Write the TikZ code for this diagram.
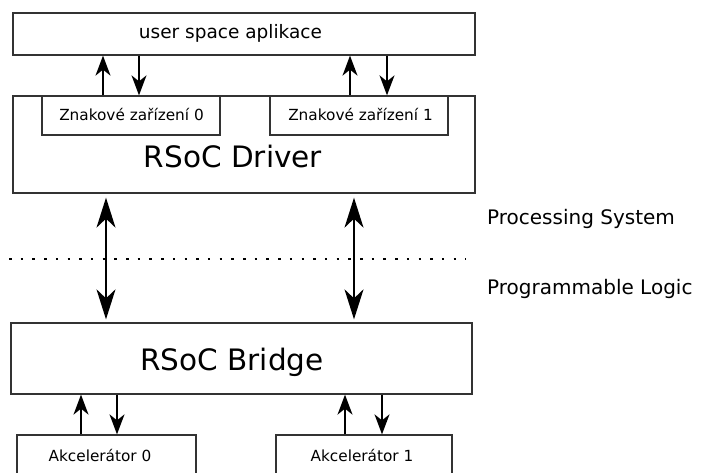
\documentclass[tikz,border=0pt]{standalone}
\usepackage{fontspec}
\setmainfont{DejaVu Sans}
\usetikzlibrary{arrows.meta,fit}

\tikzset{
  box/.style={draw=black!80, line width=1.3pt, inner sep=0pt},
  bigtxt/.style={anchor=base, inner sep=0pt, font=\fontsize{29.5}{35}\selectfont},
  midtxt/.style={anchor=base, inner sep=0pt, font=\fontsize{18.5}{22}\selectfont},
  sidetxt/.style={anchor=base west, inner sep=0pt, font=\fontsize{20}{24}\selectfont},
  smalltxt/.style={anchor=base, inner sep=0pt, font=\fontsize{15.3}{18}\selectfont},
  sarrow/.style={line width=1.5pt, -{Stealth[length=20pt, width=15pt, inset=6pt]}},
  darrow/.style={line width=1.7pt, {Stealth[length=30pt, width=19pt, inset=9pt]}-{Stealth[length=30pt, width=19pt, inset=9pt]}},
  dotline/.style={line width=1.4pt, dash pattern=on 2.5pt off 9.2pt}
}

\begin{document}
\begin{tikzpicture}[x=1pt,y=-1pt]
    \useasboundingbox (0,0) rectangle (701,473);
    \clip (0,0) rectangle (701,473);

    % Processing system side
    \node[box, fit={(13,13) (475,55)}] (usr) {};
    \node[box, fit={(13,96) (475,193)}] (drv) {};
    \node[box, fit={(42,96) (220,135)}] (zn0) {};
    \node[box, fit={(270,96) (448,135)}] (zn1) {};

    \node[midtxt] (usrlbl) at (230.5,39) {user space aplikace};
    \node[bigtxt] (drvlbl) at (233,168) {RSoC Driver};
    \node[smalltxt] (zn0lbl) at (131.5,121) {Znakové zařízení 0};
    \node[smalltxt] (zn1lbl) at (360.5,121) {Znakové zařízení 1};

    % Programmable logic side
    \node[box, fit={(11,323) (472,394)}] (brg) {};
    \node[box, fit={(17,435) (196,490)}] (ak0) {};
    \node[box, fit={(276,435) (452,490)}] (ak1) {};

    \node[bigtxt] (brglbl) at (232,370) {RSoC Bridge};
    \node[smalltxt] (ak0lbl) at (100,461) {Akcelerátor 0};
    \node[smalltxt] (ak1lbl) at (362,461) {Akcelerátor 1};

    % Boundary between PS and PL
    \draw[dotline] (9,259) -- (466,259);
    \node[sidetxt] (pslbl) at (487,225) {Processing System};
    \node[sidetxt] (pllbl) at (487,294) {Programmable Logic};

    % Char device <-> user space
    \coordinate (t0u) at (103,0);
    \coordinate (t0d) at (139,0);
    \coordinate (t1u) at (350,0);
    \coordinate (t1d) at (387,0);
    \draw[sarrow] (zn0.north -| t0u) -- (usr.south -| t0u);
    \draw[sarrow] (usr.south -| t0d) -- (zn0.north -| t0d);
    \draw[sarrow] (zn1.north -| t1u) -- (usr.south -| t1u);
    \draw[sarrow] (usr.south -| t1d) -- (zn1.north -| t1d);

    % Driver <-> bridge
    \coordinate (d0) at (106,0);
    \coordinate (d1) at (354,0);
    \draw[darrow, shorten <=4pt, shorten >=3pt] (drv.south -| d0) -- (brg.north -| d0);
    \draw[darrow, shorten <=4pt, shorten >=3pt] (drv.south -| d1) -- (brg.north -| d1);

    % Accelerators <-> bridge
    \coordinate (b0u) at (81,0);
    \coordinate (b0d) at (117,0);
    \coordinate (b1u) at (345,0);
    \coordinate (b1d) at (382,0);
    \draw[sarrow] (ak0.north -| b0u) -- (brg.south -| b0u);
    \draw[sarrow] (brg.south -| b0d) -- (ak0.north -| b0d);
    \draw[sarrow] (ak1.north -| b1u) -- (brg.south -| b1u);
    \draw[sarrow] (brg.south -| b1d) -- (ak1.north -| b1d);
\end{tikzpicture}
\end{document}
